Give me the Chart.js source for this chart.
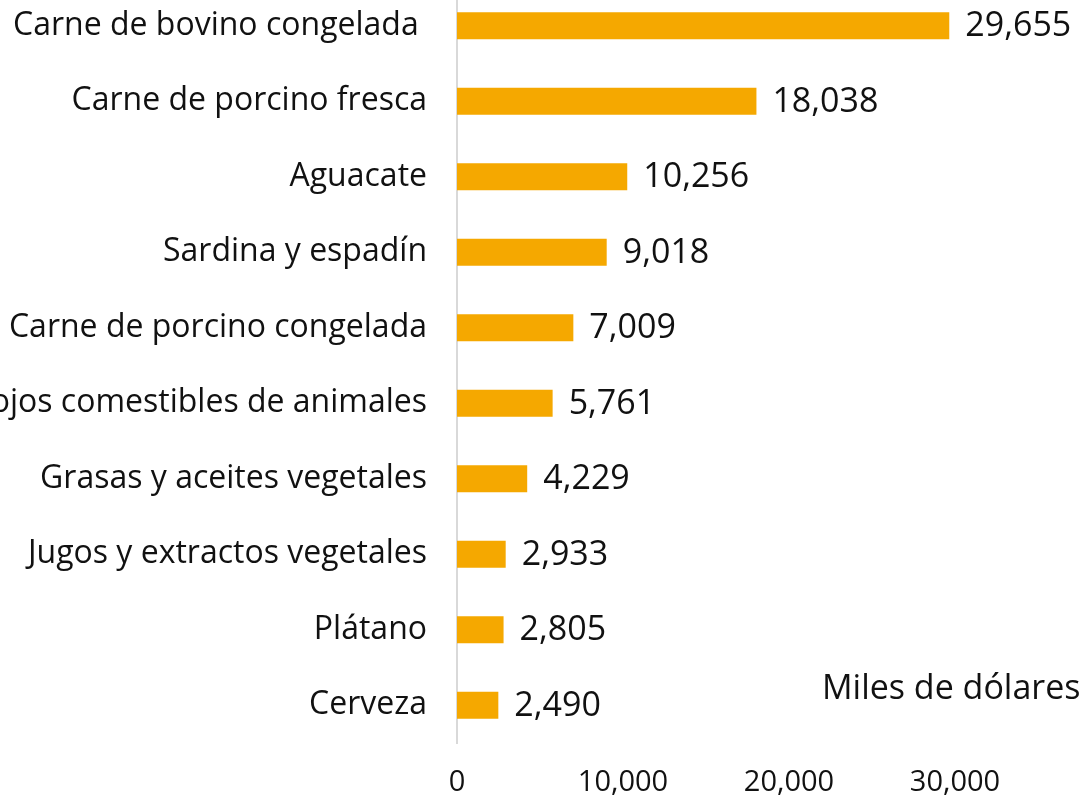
<!DOCTYPE html>
<html>
<head>
<meta charset="utf-8">
<script src="https://cdn.jsdelivr.net/npm/chart.js@4/dist/chart.umd.min.js"></script>
<style>
  html, body { margin: 0; padding: 0; background: #fff; overflow: hidden; width: 1083px; height: 795px; }
  #wrap { position: absolute; left: -200px; top: -12px; }
  #unit { position: absolute; left: 822px; top: 666px; font-family: 'Open Sans', sans-serif; font-size: 34px; color: #111; line-height: 1.2; white-space: nowrap; }
</style>
</head>
<body>
<div id="wrap"><canvas id="c" width="1321" height="807"></canvas></div>
<div id="unit">Miles de dólares</div>
<script>
const categories = [
  "Carne de bovino congelada ",
  "Carne de porcino fresca",
  "Aguacate",
  "Sardina y espadín",
  "Carne de porcino congelada",
  "Despojos comestibles de animales",
  "Grasas y aceites vegetales",
  "Jugos y extractos vegetales",
  "Plátano",
  "Cerveza"
];
const values = [29655, 18038, 10256, 9018, 7009, 5761, 4229, 2933, 2805, 2490];
const tickValues = [0, 10000, 20000, 30000];

const FONT = "'Open Sans'";
const fmt = v => v.toLocaleString('en-US');

const dataLabels = {
  id: 'dataLabels',
  afterDatasetsDraw(chart) {
    const ctx = chart.ctx;
    const meta = chart.getDatasetMeta(0);
    ctx.save();
    ctx.font = '34px ' + FONT;
    ctx.fillStyle = '#111';
    ctx.textAlign = 'left';
    ctx.textBaseline = 'middle';
    meta.data.forEach((bar, i) => {
      ctx.fillText(fmt(values[i]), bar.x + 16, bar.y + 1);
    });
    ctx.restore();
  }
};

new Chart(document.getElementById('c'), {
  type: 'bar',
  data: {
    labels: categories,
    datasets: [{
      data: values,
      backgroundColor: '#F5A800',
      borderWidth: 0,
      barPercentage: 0.72,
      categoryPercentage: 0.5
    }]
  },
  options: {
    indexAxis: 'y',
    responsive: false,
    animation: false,
    devicePixelRatio: 1,
    layout: { autoPadding: false, padding: 0 },
    plugins: { legend: { display: false }, tooltip: { enabled: false } },
    scales: {
      x: {
        min: 0,
        max: 40000,
        afterBuildTicks(scale) { scale.ticks = tickValues.map(v => ({ value: v })); },
        afterFit(scale) { scale.height = 52; scale.paddingLeft = 0; scale.paddingRight = 0; },
        grid: { display: false, drawTicks: false },
        border: { display: false },
        ticks: {
          padding: 22,
          color: '#111',
          maxRotation: 0,
          font: { family: FONT, size: 29 },
          callback: v => fmt(v)
        }
      },
      y: {
        afterFit(scale) { scale.width = 657; scale.paddingTop = 0; scale.paddingBottom = 0; },
        grid: { display: false, drawTicks: false },
        border: { display: true, color: '#d9d9d9', width: 2 },
        ticks: {
          padding: 30,
          color: '#111',
          font: { family: FONT, size: 32 }
        }
      }
    }
  },
  plugins: [dataLabels]
});
</script>
</body>
</html>
